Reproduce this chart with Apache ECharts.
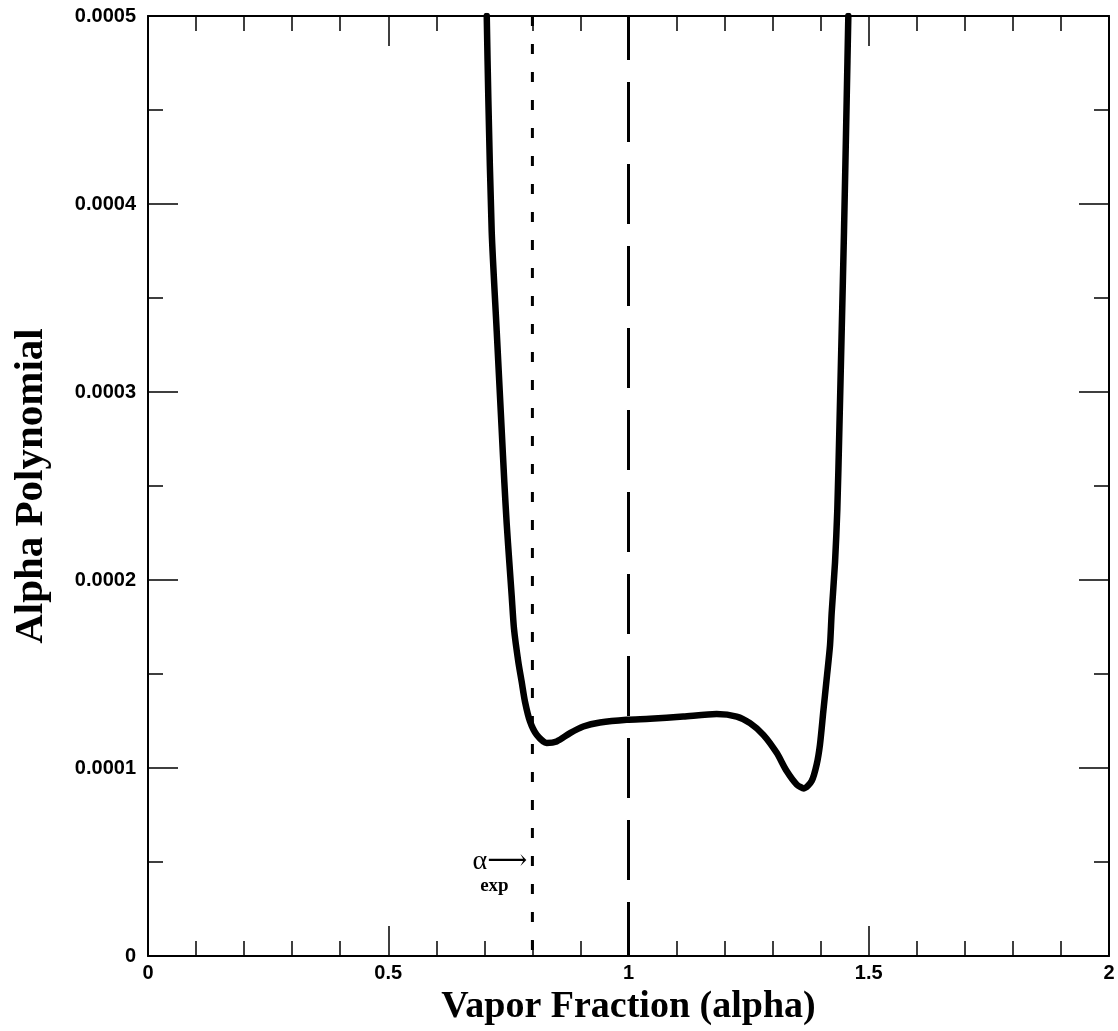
<!DOCTYPE html>
<html>
<head>
<meta charset="utf-8">
<script src="https://cdn.jsdelivr.net/npm/echarts@6/dist/echarts.min.js"></script>
<style>
html,body{margin:0;padding:0;background:#fff;}
#c{width:1118px;height:1031px;}
</style>
</head>
<body>
<div id="c"></div>
<script>
// Curve: vapor fraction (alpha) vs alpha polynomial
const curveX = [0.705, 0.7083, 0.7153, 0.7257, 0.7361, 0.7416, 0.7465, 0.7520, 0.7569, 0.7617, 0.7707, 0.7777, 0.7846, 0.7950, 0.8089, 0.8297, 0.8505, 0.8783, 0.9060, 0.9407, 0.9962, 1.0447, 1.1140, 1.1835, 1.2252, 1.2529, 1.2806, 1.3084, 1.3292, 1.3500, 1.3652, 1.3812, 1.3916, 1.3985, 1.4054, 1.4125, 1.4194, 1.4229, 1.4298, 1.4346, 1.4388, 1.4437, 1.4485, 1.4541, 1.4575];
const curveY = [0.000500, 0.0004557, 0.0003853, 0.0003325, 0.0002797, 0.0002520, 0.0002300, 0.0002093, 0.0001917, 0.0001741, 0.0001565, 0.0001459, 0.0001353, 0.0001248, 0.0001177, 0.0001134, 0.0001142, 0.0001186, 0.0001221, 0.0001242, 0.0001257, 0.0001262, 0.0001274, 0.0001287, 0.0001274, 0.0001239, 0.0001177, 0.0001081, 0.0000984, 0.0000913, 0.0000892, 0.0000931, 0.0001019, 0.0001125, 0.0001300, 0.0001477, 0.0001653, 0.0001828, 0.0002093, 0.0002376, 0.0002798, 0.0003326, 0.0003854, 0.0004557, 0.000500];
const alphaExp = 0.8;      // short-dashed vertical line
const alphaOne = 1.0;      // long-dashed vertical line
const xTicks = [0, 0.5, 1, 1.5, 2];
const yTicks = [0, 0.0001, 0.0002, 0.0003, 0.0004, 0.0005];
const xTitle = 'Vapor Fraction (alpha)';
const yTitle = 'Alpha Polynomial';

const chart = echarts.init(document.getElementById('c'), null, {renderer: 'canvas'});
const lineBlack = {color: '#000', width: 2};
const tickFont = {fontFamily: '"Liberation Sans", Arial, sans-serif', fontWeight: 'bold', fontSize: 20, color: '#000'};
const serif = '"Liberation Serif", "DejaVu Serif", serif';

function xAxisBase(pos) {
  return {
    type: 'value', position: pos, min: xTicks[0], max: xTicks[xTicks.length - 1],
    interval: xTicks[1] - xTicks[0],
    axisLine: {show: true, onZero: false, lineStyle: lineBlack},
    axisTick: {show: true, inside: true, length: 30, lineStyle: {color: '#000', width: 1.5}},
    minorTick: {show: true, splitNumber: 5, length: 15, lineStyle: {color: '#000', width: 1.5}},
    splitLine: {show: false}, minorSplitLine: {show: false}
  };
}
function yAxisBase(pos) {
  return {
    type: 'value', position: pos, min: yTicks[0], max: yTicks[yTicks.length - 1],
    interval: yTicks[1] - yTicks[0],
    axisLine: {show: true, onZero: false, lineStyle: lineBlack},
    axisTick: {show: true, inside: true, length: 30, lineStyle: {color: '#000', width: 1.5}},
    minorTick: {show: true, splitNumber: 2, length: 15, lineStyle: {color: '#000', width: 1.5}},
    splitLine: {show: false}, minorSplitLine: {show: false}
  };
}

const xBottom = Object.assign(xAxisBase('bottom'), {
  name: xTitle, nameLocation: 'middle', nameGap: 21,
  nameTextStyle: {fontFamily: serif, fontWeight: 'bold', fontSize: 38, color: '#000'},
  axisLabel: Object.assign({show: true, margin: 7, formatter: v => String(v)}, tickFont)
});
const xTop = Object.assign(xAxisBase('top'), {axisLabel: {show: false}});
const yLeft = Object.assign(yAxisBase('left'), {
  name: yTitle, nameLocation: 'middle', nameGap: 96,
  nameTextStyle: {fontFamily: serif, fontWeight: 'bold', fontSize: 41, color: '#000'},
  axisLabel: Object.assign({show: true, margin: 12, formatter: v => v === 0 ? '0' : v.toFixed(4)}, tickFont)
});
const yRight = Object.assign(yAxisBase('right'), {axisLabel: {show: false}});

const curveData = curveX.map((x, i) => [x, curveY[i]]);
const yMin = yTicks[0], yMax = yTicks[yTicks.length - 1];

chart.setOption({
  animation: false,
  backgroundColor: '#fff',
  grid: {left: 148, right: 9, top: 16, bottom: 68, containLabel: false},
  xAxis: [xBottom, xTop],
  yAxis: [yLeft, yRight],
  series: [
    {
      type: 'line', xAxisIndex: 0, yAxisIndex: 0, data: [[alphaExp, yMax], [alphaExp, yMin]],
      symbol: 'none', lineStyle: {color: '#000', width: 3, type: [10, 18]}, silent: true
    },
    {
      type: 'line', xAxisIndex: 0, yAxisIndex: 0, data: [[alphaOne, yMax], [alphaOne, yMin]],
      symbol: 'none', lineStyle: {color: '#000', width: 3, type: [60, 22], dashOffset: 16}, silent: true
    },
    {
      type: 'line', xAxisIndex: 0, yAxisIndex: 0, data: curveData, smooth: 0.25,
      symbol: 'none', lineStyle: {color: '#000', width: 6.5, cap: 'round', join: 'round'}, clip: true
    }
  ]
});

// annotation: alpha_exp arrow pointing to the short-dashed line
const p = chart.convertToPixel({xAxisIndex: 0, yAxisIndex: 0}, [alphaExp, 0.00005]);
chart.setOption({
  graphic: [
    {type: 'text', x: p[0] - 5, y: p[1], style: {text: 'α⟶', align: 'right', verticalAlign: 'middle',
      font: '28px ' + serif, fill: '#000'}},
    {type: 'text', x: p[0] - 38, y: p[1] + 24, style: {text: 'exp', align: 'center', verticalAlign: 'middle',
      font: 'bold 19px ' + serif, fill: '#000'}}
  ]
});
</script>
</body>
</html>
